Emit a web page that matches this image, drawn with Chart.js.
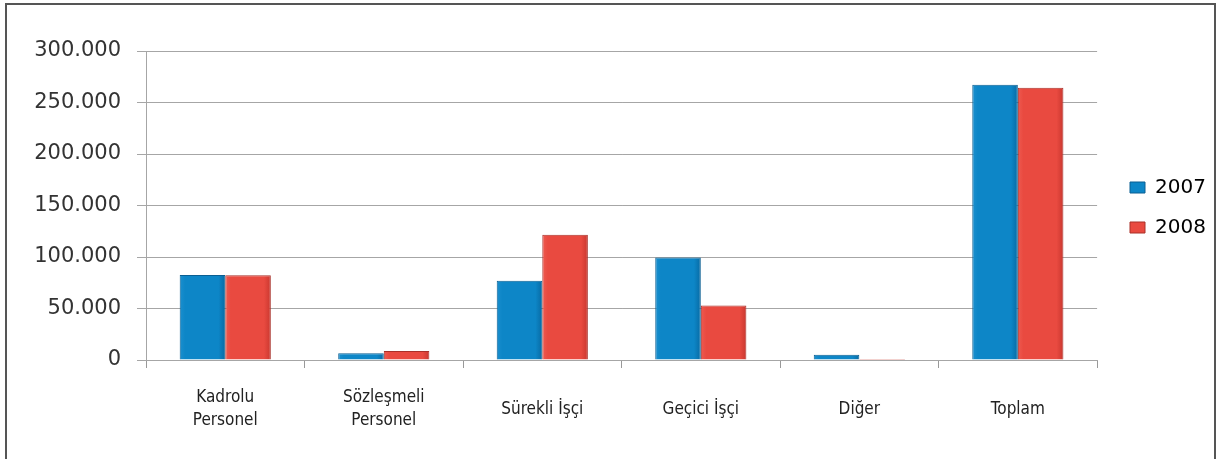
<!DOCTYPE html>
<html>
<head>
<meta charset="utf-8">
<script src="https://cdn.jsdelivr.net/npm/chart.js@4"></script>
<style>
    html, body { margin: 0; padding: 0; background: #fff; }
    #wrap { position: relative; width: 1219px; height: 459px; overflow: hidden; }
    #frame { position: absolute; left: 5px; top: 3px; width: 1207px; height: 470px; border: 2px solid #555; border-bottom: none; }
    canvas { position: absolute; left: 0; top: 0; }
</style>
</head>
<body>
<div id="wrap">
    <div id="frame"></div>
    <canvas id="staffChart" width="1219" height="459"></canvas>
</div>
<script>
// Personnel counts by type
const categories = [["Kadrolu", "Personel"], ["Sözleşmeli", "Personel"], "Sürekli İşçi", "Geçici İşçi", "Diğer", "Toplam"];
const values2007 = [82600, 6500, 77000, 99400, 5200, 267300];
const values2008 = [82400, 8700, 121500, 52800, 500, 264300];
const yTicks = [0, 50000, 100000, 150000, 200000, 250000, 300000];

const CAT_PCT = 0.575;

// thousands with a dot, like "250.000"
function fmt(v) {
    return String(v).replace(/\B(?=(\d{3})+(?!\d))/g, ".");
}

// horizontal shading so the bars look a bit rounded, like the original
function shade(edge, mid, dark) {
    return (c) => {
        const chart = c.chart;
        const xs = chart.scales.x;
        if (!xs || c.dataIndex === undefined || !chart.chartArea) return mid;
        const w = (xs.width / categories.length) * CAT_PCT / 2;
        const center = xs.getPixelForValue(c.dataIndex);
        const left = c.datasetIndex === 0 ? center - w : center;
        const g = chart.ctx.createLinearGradient(left, 0, left + w, 0);
        g.addColorStop(0, edge);
        g.addColorStop(0.12, mid);
        g.addColorStop(0.85, mid);
        g.addColorStop(1, dark);
        return g;
    };
}

// move the legend next to the plot, centred on it
const legendPlace = {
    id: "legendPlace",
    beforeDraw(chart) {
        const lg = chart.legend;
        const w = lg.right - lg.left;
        lg.left = 1110;
        lg.right = lg.left + w;
        lg.top = 53;
        lg.bottom = 362;
    }
};

function renderStaffChart() {
    const ctx = document.getElementById("staffChart").getContext("2d");
    new Chart(ctx, {
        type: "bar",
        data: {
            labels: categories,
            datasets: [{
                label: "2007",
                data: values2007,
                backgroundColor: shade("#1b8fce", "#0d86c7", "#086aa3"),
                borderColor: "#0a5f92",
                borderWidth: 1
            }, {
                label: "2008",
                data: values2008,
                backgroundColor: shade("#ee5a50", "#e94a40", "#c9372f"),
                borderColor: "#a93029",
                borderWidth: 1
            }]
        },
        options: {
            responsive: false,
            animation: false,
            layout: { padding: { top: 51, right: 16, bottom: 0, left: 0 } },
            datasets: {
                bar: { barPercentage: 1, categoryPercentage: CAT_PCT, minBarLength: 1 }
            },
            plugins: {
                legend: {
                    position: "right",
                    labels: {
                        boxWidth: 15,
                        boxHeight: 11,
                        padding: 20,
                        color: "#222",
                        generateLabels: (chart) => chart.data.datasets.map((ds, i) => ({
                            text: ds.label,
                            fillStyle: i === 0 ? "#0d86c7" : "#e94a40",
                            strokeStyle: ds.borderColor,
                            lineWidth: 1,
                            datasetIndex: i
                        })),
                        font: { family: "DejaVu Sans", size: 20 }
                    }
                },
                tooltip: { enabled: false }
            },
            scales: {
                x: {
                    offset: true,
                    afterFit: (scale) => { scale.height = 99; },
                    grid: {
                        offset: true,
                        drawOnChartArea: false,
                        drawTicks: true,
                        tickLength: 8,
                        color: "#999"
                    },
                    border: { color: "#a6a6a6", width: 1 },
                    ticks: {
                        padding: 30,
                        crossAlign: "center",
                        color: "#222",
                        font: { family: "'Liberation Sans Narrow', 'DejaVu Sans Condensed', 'Liberation Sans', Arial", size: 17, lineHeight: 1.35 }
                    }
                },
                y: {
                    min: 0,
                    max: 300000,
                    afterFit: (scale) => { scale.width = 146; },
                    afterBuildTicks: (scale) => { scale.ticks = yTicks.map(v => ({ value: v })); },
                    grid: { color: "#a6a6a6", tickLength: 9 },
                    border: { color: "#a6a6a6", width: 1 },
                    ticks: {
                        padding: 16,
                        color: "#333",
                        font: { family: "DejaVu Sans", size: 21 },
                        callback: (v) => fmt(v)
                    }
                }
            }
        },
        plugins: [legendPlace]
    });
}

document.addEventListener("DOMContentLoaded", renderStaffChart);
</script>
</body>
</html>
